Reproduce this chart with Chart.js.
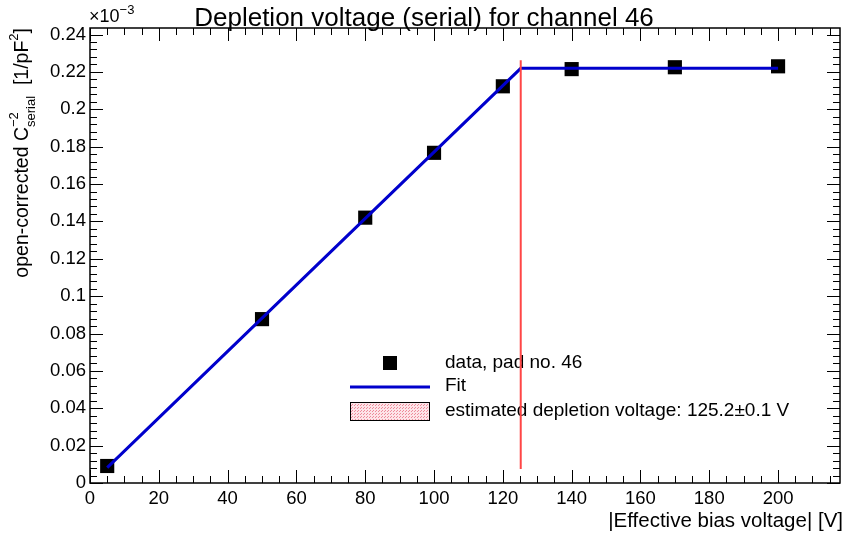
<!DOCTYPE html>
<html>
<head>
<meta charset="utf-8">
<script src="https://cdn.jsdelivr.net/npm/chart.js@4/dist/chart.umd.min.js"></script>
<style>
  html, body { margin: 0; padding: 0; background: #fff; }
  canvas { display: block; }
</style>
</head>
<body>
<canvas id="c" width="850" height="535"></canvas>
<script>
// ---- data (y values in units of 10^-3 1/pF^2) ----
const voltages = [5, 50, 80, 100, 120, 140, 170, 200];
const invC2 = [0.0091, 0.0877, 0.1420, 0.1767, 0.2123, 0.2215, 0.2225, 0.2230];
const fitX = [5, 125.2, 200];
const fitY = [0.0082, 0.2219, 0.2219];
const depletionV = 125.2;
const depletionYRange = [0.0075, 0.2262];
const xTickLabels = [0, 20, 40, 60, 80, 100, 120, 140, 160, 180, 200];
const yTickLabels = [0, 0.02, 0.04, 0.06, 0.08, 0.1, 0.12, 0.14, 0.16, 0.18, 0.2, 0.22, 0.24];
const xRange = [0, 218];
const yRange = [0, 0.2435];

const titleText = 'Depletion voltage (serial) for channel 46';
const legendLabels = ['data, pad no. 46', 'Fit', 'estimated depletion voltage: 125.2\u00b10.1 V'];
const FONT = '"Liberation Sans", Arial, sans-serif';

function pts(xs, ys) { return xs.map((x, i) => ({x: x, y: ys[i]})); }

function makePattern(ctx) {
  const p = document.createElement('canvas');
  p.width = 3; p.height = 3;
  const pc = p.getContext('2d');
  pc.fillStyle = '#fde4e8';
  pc.fillRect(0, 0, 3, 3);
  pc.fillStyle = '#ee8a9a';
  pc.fillRect(0, 0, 1, 1);
  pc.fillRect(1, 2, 1, 1);
  return ctx.createPattern(p, 'repeat');
}

const decor = {
  id: 'decor',
  beforeDatasetsDraw(chart) {
    const ctx = chart.ctx;
    ctx.save();
    const lx = 445;
    const rows = [363, 386, 411];
    ctx.font = '19px ' + FONT;
    ctx.fillStyle = '#000';
    ctx.textBaseline = 'middle';
    ctx.textAlign = 'left';
    legendLabels.forEach((t, i) => ctx.fillText(t, lx, rows[i]));
    ctx.fillStyle = '#000';
    ctx.fillRect(383, rows[0] - 7, 14, 14);
    ctx.strokeStyle = '#0000cc';
    ctx.lineWidth = 3;
    ctx.beginPath();
    ctx.moveTo(350, rows[1] + 1); ctx.lineTo(430, rows[1] + 1);
    ctx.stroke();
    ctx.fillStyle = makePattern(ctx);
    ctx.fillRect(350, rows[2] - 9, 80, 19);
    ctx.strokeStyle = '#000';
    ctx.lineWidth = 1;
    ctx.strokeRect(350.5, rows[2] - 8.5, 79, 18);
    ctx.restore();
  },
  afterDraw(chart) {
    const ctx = chart.ctx;
    const a = chart.chartArea;
    const xs = chart.scales.x, ys = chart.scales.y;
    ctx.save();
    ctx.strokeStyle = '#000';
    ctx.lineWidth = 1.5;
    ctx.strokeRect(a.left, a.top, a.right - a.left, a.bottom - a.top);
    ctx.lineWidth = 1;
    ctx.beginPath();
    for (let v = 0; v <= xRange[1] + 1e-9; v += 5) {
      const px = Math.round(xs.getPixelForValue(v)) + 0.5;
      const len = (Math.abs(v % 20) < 1e-9) ? 13 : 7;
      ctx.moveTo(px, a.bottom); ctx.lineTo(px, a.bottom - len);
      ctx.moveTo(px, a.top); ctx.lineTo(px, a.top + len);
    }
    for (let i = 0; i * 0.004 <= yRange[1] + 1e-9; i++) {
      const v = i * 0.004;
      const py = Math.round(ys.getPixelForValue(v)) + 0.5;
      const len = (i % 5 === 0) ? 13 : 7;
      ctx.moveTo(a.left, py); ctx.lineTo(a.left + len, py);
      ctx.moveTo(a.right, py); ctx.lineTo(a.right - len, py);
    }
    ctx.stroke();

    // title
    ctx.fillStyle = '#000';
    ctx.font = '26px ' + FONT;
    ctx.textAlign = 'center';
    ctx.textBaseline = 'alphabetic';
    ctx.fillText(titleText, 424, 26);

    // x10^-3
    ctx.textAlign = 'left';
    ctx.font = '18px ' + FONT;
    ctx.fillText('\u00d710', 89, 22);
    const w10 = ctx.measureText('\u00d710').width;
    ctx.font = '13px ' + FONT;
    ctx.fillText('\u22123', 89 + w10, 14);

    // x axis title
    ctx.font = '20.5px ' + FONT;
    ctx.textAlign = 'right';
    ctx.fillText('|Effective bias voltage| [V]', a.right + 3, 527);

    // y axis title
    const parts = [
      {t: 'open-corrected C', f: 19.5, dy: 0},
      {t: '\u22122', f: 13, dy: -10, sup: true},
      {t: 'serial', f: 13, dy: 7, sub: true},
      {t: '  [1/pF', f: 19.5, dy: 0},
      {t: '2', f: 13, dy: -10},
      {t: ']', f: 19.5, dy: 0}
    ];
    let total = 0;
    const pos = [];
    let supStart = 0, supW = 0;
    parts.forEach(p => {
      ctx.font = p.f + 'px ' + FONT;
      const w = ctx.measureText(p.t).width;
      if (p.sup) { supStart = total; supW = w; pos.push(total); total += w; }
      else if (p.sub) { pos.push(supStart); total = supStart + Math.max(supW, w); }
      else { pos.push(total); total += w; }
    });
    ctx.translate(28, 28);
    ctx.rotate(-Math.PI / 2);
    ctx.textAlign = 'left';
    parts.forEach((p, i) => {
      ctx.font = p.f + 'px ' + FONT;
      ctx.fillText(p.t, -total + pos[i], p.dy);
    });
    ctx.restore();
  }
};

new Chart(document.getElementById('c'), {
  type: 'scatter',
  data: {
    datasets: [
      {
        label: 'depletion',
        type: 'line',
        data: [{x: depletionV, y: depletionYRange[0]}, {x: depletionV, y: depletionYRange[1]}],
        borderColor: '#ff4646',
        borderWidth: 2,
        pointRadius: 0,
        fill: false,
        order: 0
      },
      {
        label: 'Fit',
        type: 'line',
        data: pts(fitX, fitY),
        borderColor: '#0000cc',
        borderWidth: 3,
        pointRadius: 0,
        tension: 0,
        fill: false,
        order: 1
      },
      {
        label: 'data',
        data: pts(voltages, invC2),
        pointStyle: 'rect',
        pointRadius: 10,
        pointHoverRadius: 10,
        backgroundColor: '#000',
        borderColor: '#000',
        borderWidth: 0,
        order: 2
      }
    ]
  },
  options: {
    responsive: false,
    animation: false,
    events: [],
    layout: { padding: { top: 28, right: 7, left: 0, bottom: 0 } },
    plugins: { legend: { display: false }, tooltip: { enabled: false }, title: { display: false } },
    scales: {
      x: {
        type: 'linear',
        min: xRange[0], max: xRange[1],
        grid: { display: false, drawTicks: false },
        border: { display: false },
        afterBuildTicks: s => { s.ticks = xTickLabels.map(v => ({value: v})); },
        afterFit: s => { s.height = 52; },
        ticks: {
          color: '#000', font: { family: FONT, size: 18.5 }, padding: 5,
          maxRotation: 0, autoSkip: false,
          callback: v => String(v)
        }
      },
      y: {
        type: 'linear',
        min: yRange[0], max: yRange[1],
        grid: { display: false, drawTicks: false },
        border: { display: false },
        afterBuildTicks: s => { s.ticks = yTickLabels.map(v => ({value: v})); },
        afterFit: s => { s.width = 90; },
        ticks: {
          color: '#000', font: { family: FONT, size: 18.5 }, padding: 4,
          autoSkip: false,
          callback: v => String(Number(v.toFixed(3)))
        }
      }
    }
  },
  plugins: [decor]
});
</script>
</body>
</html>
